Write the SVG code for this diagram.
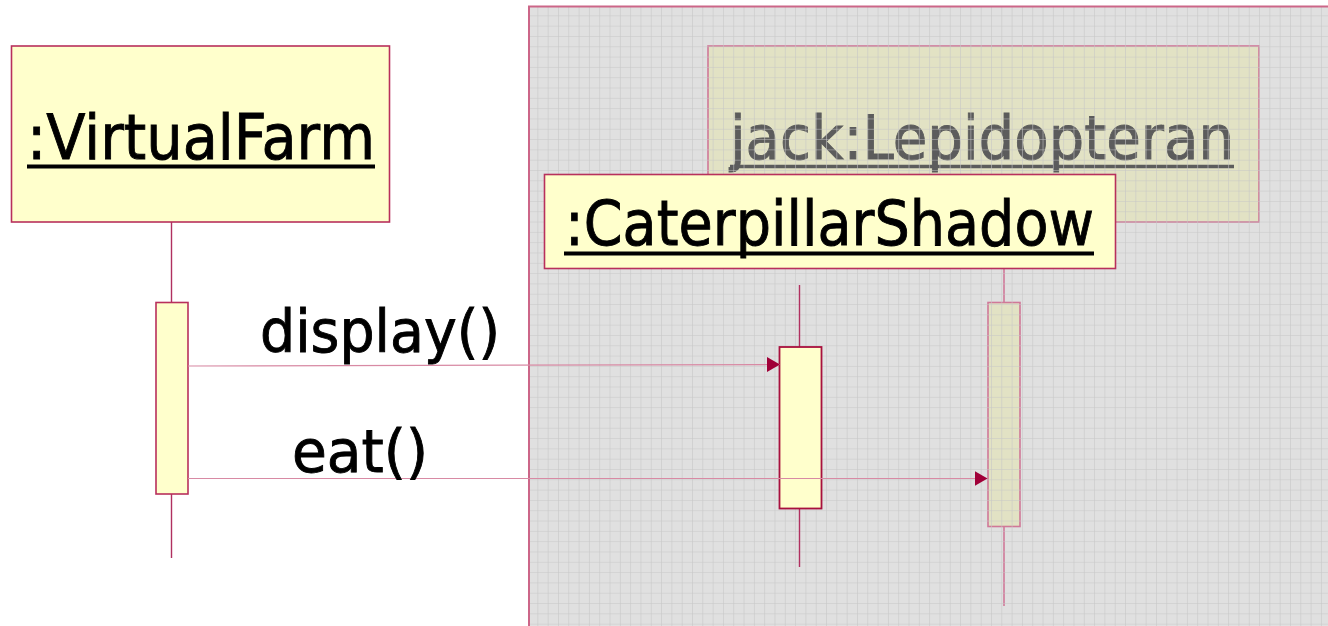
<svg xmlns="http://www.w3.org/2000/svg" width="1328" height="626" viewBox="0 0 1328 626">
  <defs>
    <style>
      .obj { fill: #ffffcc; stroke: #b8305c; stroke-width: 1.6; }
      .act { fill: #ffffcc; stroke: #a8103e; stroke-width: 1.8; }
      .life { stroke: #b03060; stroke-width: 1.4; }
      .ghost { fill: #e2e2c4; stroke: #d07898; stroke-width: 1.6; }
      .ghostline { stroke: #d07898; stroke-width: 1.6; }
      .msg { stroke: #d88aa4; stroke-width: 1.2; fill: none; }
      .lbl { font-family: "DejaVu Sans", "Liberation Sans", sans-serif; fill: #000; stroke: #000; stroke-width: 0.9; }
      .ul { stroke: #000; stroke-width: 4; }
    </style>
    <pattern id="grid" patternUnits="userSpaceOnUse" x="528" y="6" width="10.31" height="10.31">
      <path d="M10.31 0 V10.31 M0 10.31 H10.31" stroke="#c6c6c6" stroke-width="1.1" fill="none"/>
    </pattern>
    <marker id="head" markerWidth="14" markerHeight="16" refX="13" refY="7.5" orient="auto" markerUnits="userSpaceOnUse">
      <path d="M0 0 L13 7.5 L0 15 Z" fill="#a00038"/>
    </marker>
  </defs>

  <rect width="1328" height="626" fill="#ffffff"/>

  <!-- shaded region -->
  <g id="region">
    <rect x="528.5" y="6.5" width="800" height="620" fill="#e0e0e0"/>
  </g>

  <!-- faded object behind the grid -->
  <g id="jack">
    <rect class="ghost" x="708" y="46" width="551" height="176"/>
    <text class="lbl" x="730" y="159" font-size="60" style="fill:#5c5c5c;stroke:#5c5c5c" textLength="504" lengthAdjust="spacingAndGlyphs">jack:Lepidopteran</text>
    <line x1="730" y1="166.5" x2="1234" y2="166.5" stroke="#5c5c5c" stroke-width="3.5"/>
    <line class="ghostline" x1="1004" y1="268" x2="1004" y2="606"/>
    <rect class="ghost" x="988" y="302.5" width="32" height="224"/>
  </g>

  <!-- grid overlay -->
  <rect x="528.5" y="6.5" width="800" height="620" fill="url(#grid)"/>
  <path d="M529 626 V6.5 H1328" fill="none" stroke="#cc6688" stroke-width="2"/>

  <g id="virtualfarm">
    <rect class="obj" x="11.5" y="46" width="378" height="176"/>
    <text class="lbl" x="27" y="159" font-size="62" textLength="348" lengthAdjust="spacingAndGlyphs">:VirtualFarm</text>
    <line class="ul" x1="27" y1="166.5" x2="375" y2="166.5"/>
    <line class="life" x1="171.5" y1="222" x2="171.5" y2="558"/>
    <rect class="obj" x="156" y="302.5" width="32" height="191.5"/>
  </g>

  <g id="caterpillar">
    <rect class="obj" x="544.5" y="174.5" width="571" height="94"/>
    <text class="lbl" x="565" y="245" font-size="62" textLength="529" lengthAdjust="spacingAndGlyphs">:CaterpillarShadow</text>
    <line class="ul" x1="564" y1="253.5" x2="1094" y2="253.5"/>
    <line class="life" x1="799.5" y1="285" x2="799.5" y2="567"/>
    <rect class="act" x="779.5" y="347" width="42" height="161.5"/>
  </g>

  <g id="connectors">
    <line class="msg" x1="188" y1="366" x2="780" y2="364.5" marker-end="url(#head)"/>
    <line class="msg" x1="188" y1="478.5" x2="987.5" y2="478.5" marker-end="url(#head)"/>
    <text class="lbl" x="260" y="352" font-size="58" textLength="240" lengthAdjust="spacingAndGlyphs">display()</text>
    <text class="lbl" x="292" y="472" font-size="58" textLength="136" lengthAdjust="spacingAndGlyphs">eat()</text>
  </g>
</svg>
